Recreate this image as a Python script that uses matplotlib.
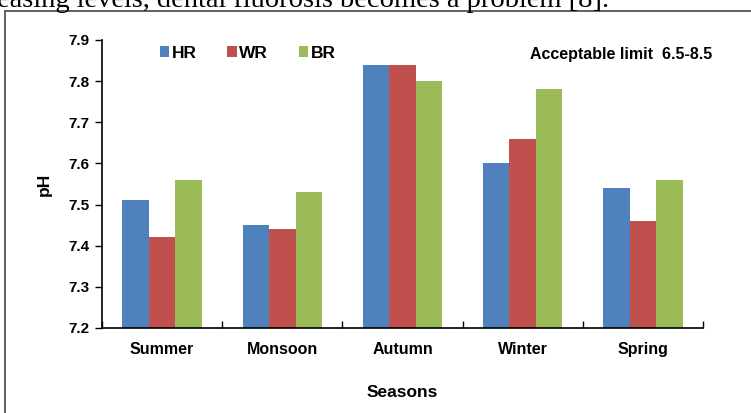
import numpy as np
import matplotlib.pyplot as plt
from matplotlib.lines import Line2D

seasons = ["Summer", "Monsoon", "Autumn", "Winter", "Spring"]
hr = [7.51, 7.45, 7.84, 7.60, 7.54]
wr = [7.42, 7.44, 7.84, 7.66, 7.46]
br = [7.56, 7.53, 7.80, 7.78, 7.56]
series = ["HR", "WR", "BR"]
colors = ["#4F81BD", "#C0504D", "#9BBB59"]
yticks = [7.2, 7.3, 7.4, 7.5, 7.6, 7.7, 7.8, 7.9]

W, H = 751, 413
fig = plt.figure(figsize=(W / 100, H / 100), dpi=100)
plt.rcParams['font.family'] = ['Liberation Sans', 'DejaVu Sans']

# frame of the figure box (only top and left edge visible)
fig.add_artist(Line2D([5 / W, 1], [1 - 11 / H, 1 - 11 / H], color="#555555", lw=1.3))
fig.add_artist(Line2D([5 / W, 5 / W], [0, 1 - 11 / H], color="#555555", lw=1.3))

# cut-off line of body text above the figure
fig.text(-3 / W, 1 - 7 / H, "easing levels, dental fluorosis becomes a problem [8].",
         family="Liberation Serif", fontsize=20.5, va="baseline", ha="left")

ax = fig.add_axes([102 / W, 1 - 328 / H, (703 - 102) / W, (328 - 40) / H])

x = np.arange(len(seasons))
w = 0.22
for i, (vals, name, c) in enumerate(zip([hr, wr, br], series, colors)):
    base = 7.2
    ax.bar(x + (i - 1) * w, np.array(vals) - base, w, bottom=base, color=c, label=name)

ax.set_xlim(-0.5, len(seasons) - 0.5)
ax.set_ylim(7.2, 7.9)
ax.set_yticks(yticks)
ax.set_yticklabels([f"{v:.1f}" for v in yticks], fontsize=11, fontweight="bold")
ax.set_xticks(np.arange(-0.5, len(seasons), 1.0))
ax.set_xticklabels([])
ax.set_xticks(x, minor=True)
ax.set_xticklabels(seasons, minor=True, fontsize=11.5, fontweight="bold")
ax.tick_params(axis="x", which="minor", length=0, pad=10)
ax.tick_params(axis="x", which="major", length=5, direction="in", width=1)
ax.tick_params(axis="y", length=5, direction="out", width=1, pad=4)
ax.spines["top"].set_visible(False)
ax.spines["right"].set_visible(False)
ax.spines["left"].set_linewidth(1.2)
ax.spines["bottom"].set_linewidth(1.2)

ax.set_ylabel("pH", fontsize=12.5, fontweight="bold", labelpad=12)
ax.set_xlabel("Seasons", fontsize=12.5, fontweight="bold", labelpad=20)

leg = ax.legend(loc="upper left", bbox_to_anchor=(0.07, 1.035), ncol=3, frameon=False,
                prop={"size": 12.5, "weight": "bold"}, handlelength=0.55, handleheight=0.55,
                handletextpad=0.15, columnspacing=1.75)

fig.text(712 / W, 1 - 55 / H, "Acceptable limit  6.5-8.5",
         ha="right", va="center", fontsize=11.5, fontweight="bold")

fig.savefig("out.png", dpi=100)
